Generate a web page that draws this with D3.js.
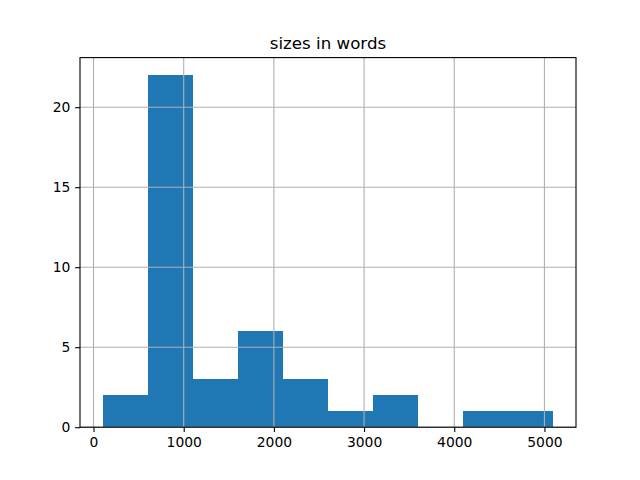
<!DOCTYPE html>
<html>
<head>
<meta charset="utf-8">
<script src="https://cdn.jsdelivr.net/npm/d3@7"></script>
<style>
html,body{margin:0;padding:0;background:#fff;}
text{font-family:"DejaVu Sans",sans-serif;}
</style>
</head>
<body>
<svg id="chart" width="640" height="480"></svg>
<script>
const binEdges = [100, 600, 1100, 1600, 2100, 2600, 3100, 3600, 4100, 4600, 5100];
const counts = [2, 22, 3, 6, 3, 1, 2, 0, 1, 1];
const xTicks = [0, 1000, 2000, 3000, 4000, 5000];
const yTicks = [0, 5, 10, 15, 20];
const title = "sizes in words";

const svg = d3.select("#chart");
const L = 80, R = 576, T = 57.6, B = 427.2;
const xMin = binEdges[0], xMax = binEdges[binEdges.length-1];
const pad = (xMax - xMin) * 0.05;
const x = d3.scaleLinear().domain([xMin - pad, xMax + pad]).range([L, R]);
const y = d3.scaleLinear().domain([0, d3.max(counts) * 1.05]).range([B, T]);

svg.append("rect").attr("x",0).attr("y",0).attr("width",640).attr("height",480).attr("fill","#fff");

const bins = counts.map((c,i)=>({x0:binEdges[i], x1:binEdges[i+1], c}));
svg.append("g").attr("shape-rendering","crispEdges").selectAll("rect").data(bins).join("rect")
  .attr("x", d=>x(d.x0)).attr("width", d=>x(d.x1)-x(d.x0))
  .attr("y", d=>y(d.c)).attr("height", d=>y(0)-y(d.c))
  .attr("fill", "#1f77b4");

// grid on top
const grid = svg.append("g").attr("stroke","#b0b0b0").attr("stroke-width",1.1);
grid.selectAll("line.gx").data(xTicks).join("line").attr("class","gx")
  .attr("x1",d=>x(d)).attr("x2",d=>x(d)).attr("y1",T).attr("y2",B);
grid.selectAll("line.gy").data(yTicks).join("line").attr("class","gy")
  .attr("x1",L).attr("x2",R).attr("y1",d=>y(d)).attr("y2",d=>y(d));

const xAxis = d3.axisBottom(x).tickValues(xTicks).tickFormat(d3.format("d")).tickSizeInner(4.86).tickSizeOuter(0).tickPadding(4.86);
const yAxis = d3.axisLeft(y).tickValues(yTicks).tickFormat(d3.format("d")).tickSizeInner(4.86).tickSizeOuter(0).tickPadding(4.86);

const gx = svg.append("g").attr("transform",`translate(0,${B})`).call(xAxis);
const gy = svg.append("g").attr("transform",`translate(${L},0)`).call(yAxis);
[gx,gy].forEach(g=>{
  g.select(".domain").remove();
  g.selectAll(".tick line").attr("stroke","#000").attr("stroke-width",1.1);
  g.selectAll(".tick text").attr("fill","#000").style("font-size","13.89px").style("font-family","DejaVu Sans, sans-serif");
});

// spines
svg.append("rect").attr("x",L).attr("y",T).attr("width",R-L).attr("height",B-T)
  .attr("fill","none").attr("stroke","#000").attr("stroke-width",1.1);

svg.append("text").attr("x",(L+R)/2).attr("y",T-8.3).attr("text-anchor","middle")
  .style("font-size","16.67px").attr("fill","#000").text(title);
</script>
</body>
</html>
